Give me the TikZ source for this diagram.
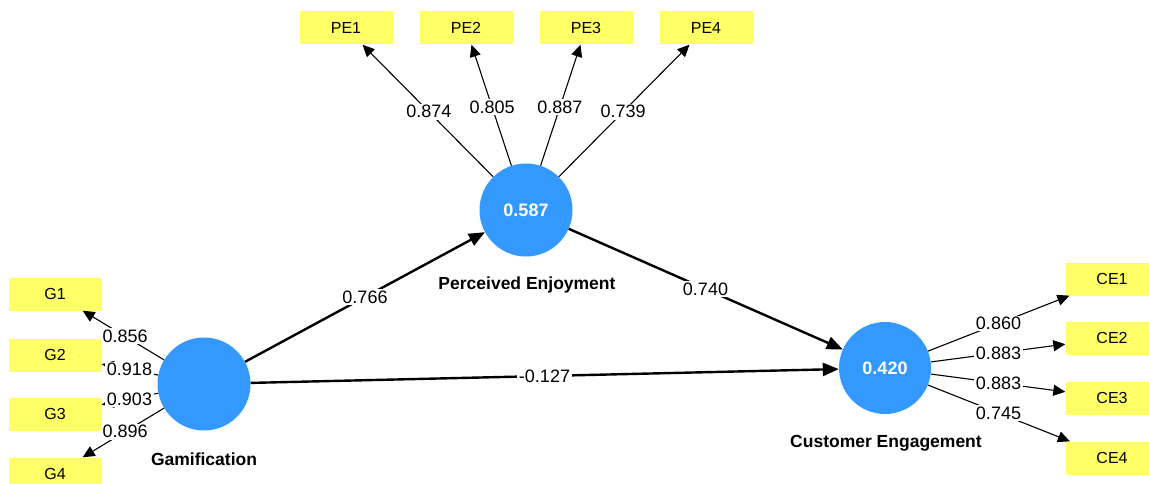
\documentclass[tikz,border=0pt]{standalone}
\usepackage{fontspec}
\setmainfont{Liberation Sans}
\usetikzlibrary{arrows.meta,calc}
\definecolor{lvblue}{RGB}{51,153,255}
\definecolor{indyellow}{RGB}{255,255,102}
\begin{document}
\begin{tikzpicture}[x=1pt,y=-1pt,
  lv/.style={circle,fill=lvblue,minimum size=93pt,inner sep=0pt,text=white,font=\fontsize{18}{20}\selectfont\bfseries},
  ind/.style={rectangle,fill=indyellow,minimum width=93pt,minimum height=33pt,inner sep=0pt,font=\fontsize{16}{18}\selectfont},
  lvname/.style={font=\fontsize{17.5}{19}\selectfont\bfseries},
  meas/.style={line width=1.1pt,-{Triangle[length=12pt,width=11pt]}},
  struct/.style={line width=2.4pt,-{Triangle[length=16pt,width=13pt]}},
  coef/.style={fill=white,inner sep=1.5pt,font=\fontsize{18}{20}\selectfont}
]
\useasboundingbox (0,0) rectangle (1149,484);
\clip (0,0) rectangle (1149,484);

% latent variables
\node[lv] (gam) at (204,384) {};
\node[lv] (pe) at (526,210) {0.587};
\node[lv,minimum size=92pt] (ce) at (885,368) {0.420};
\node[lvname] (gamname) at (204,459) {Gamification};
\node[lvname] (pename) at (527,285) {Perceived Enjoyment};
\node[lvname] (cename) at (886,443) {Customer Engagement};

% indicators
\node[ind] (g1) at (55,294) {G1};
\node[ind] (g2) at (55,355) {G2};
\node[ind] (g3) at (55,414) {G3};
\node[ind] (g4) at (55,474) {G4};
\node[ind] (pe1) at (346,28) {PE1};
\node[ind] (pe2) at (466,28) {PE2};
\node[ind] (pe3) at (586,28) {PE3};
\node[ind] (pe4) at (706,28) {PE4};
\node[ind] (ce1) at (1112,279) {CE1};
\node[ind] (ce2) at (1112,338) {CE2};
\node[ind] (ce3) at (1112,398) {CE3};
\node[ind] (ce4) at (1112,458) {CE4};

% measurement arrows
\foreach \t in {g1,g2,g3,g4} \draw[meas] (gam) -- (\t);
\foreach \t in {pe1,pe2,pe3,pe4} \draw[meas] (pe) -- (\t);
\foreach \t in {ce1,ce2,ce3,ce4} \draw[meas] (ce) -- (\t);

% structural arrows
\draw[struct] (gam) -- (pe);
\draw[struct] (pe) -- (ce);
\draw[struct] (gam) -- (ce);

% coefficients
\node[coef] (l1) at ($(gam)!0.53!(g1)$) {0.856};
\node[coef] (l2) at ($(gam)!0.5!(g2)$) {0.918};
\node[coef] (l3) at ($(gam)!0.5!(g3)$) {0.903};
\node[coef] (l4) at ($(gam)!0.53!(g4)$) {0.896};
\node[coef] (l5) at ($(pe)!0.54!(pe1)$) {0.874};
\node[coef] (l6) at ($(pe)!0.566!(pe2)$) {0.805};
\node[coef] (l7) at ($(pe)!0.566!(pe3)$) {0.887};
\node[coef] (l8) at ($(pe)!0.54!(pe4)$) {0.739};
\node[coef] (l9) at ($(ce)!0.5!(ce1)$) {0.860};
\node[coef] (l10) at ($(ce)!0.5!(ce2)$) {0.883};
\node[coef] (l11) at ($(ce)!0.5!(ce3)$) {0.883};
\node[coef] (l12) at ($(ce)!0.5!(ce4)$) {0.745};
\node[coef] (l13) at ($(gam)!0.5!(pe)$) {0.766};
\node[coef] (l14) at ($(pe)!0.5!(ce)$) {0.740};
\node[coef] (l15) at ($(gam)!0.5!(ce)$) {-0.127};
\end{tikzpicture}
\end{document}
